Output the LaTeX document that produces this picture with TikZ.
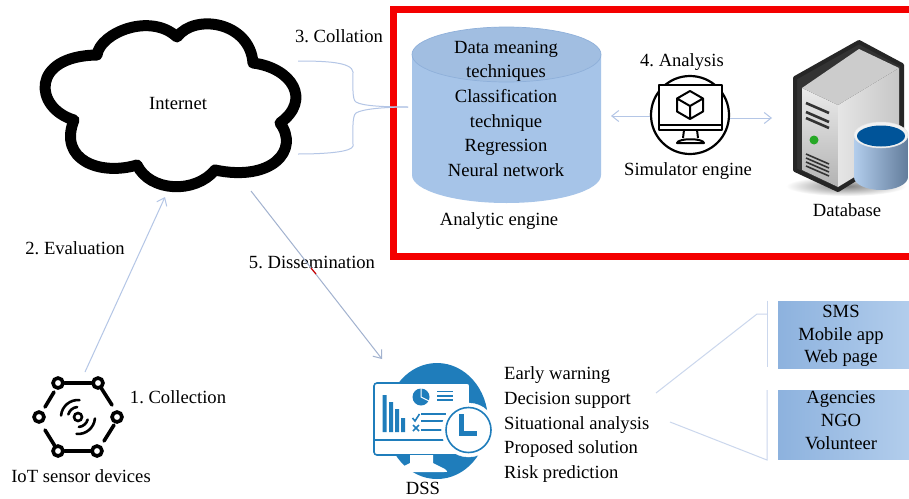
\documentclass[tikz,border=0pt]{standalone}
\usepackage{fontspec}
\setmainfont{Liberation Serif}
\usetikzlibrary{arrows.meta,shadings,calc}
\definecolor{link}{HTML}{B4C6E6}
\definecolor{cyl}{HTML}{A6C4E8}
\definecolor{cylrim}{HTML}{8FB0DA}
\definecolor{dssblue}{HTML}{1F7DBB}
\definecolor{ired}{HTML}{F40000}
\tikzset{
 lbl/.style={inner sep=0pt,font=\fontsize{18.6}{20}\selectfont\frenchspacing,text height=16.5pt,text depth=4pt,align=center},
 lst/.style={lbl,anchor=west},
 connector/.style={draw=link,line width=1pt},
 arrowed/.style={connector,-{Straight Barb[length=7pt,width=11pt]}},
 infobox/.style={inner sep=0pt,left color=HTMLboxa,right color=HTMLboxb},
 iotpad/.style={draw=black,line width=3.6pt,fill=white,circle,inner sep=0pt,minimum size=10pt},
 iotline/.style={draw=black,line width=3.6pt,line cap=round},
 srv/.style={line join=round},
}
\definecolor{HTMLboxa}{HTML}{8DB2DE}
\definecolor{HTMLboxb}{HTML}{B2CDEC}
\begin{document}
\begin{tikzpicture}[x=1pt,y=-1pt]
\useasboundingbox (0,0) rectangle (909,498);
\fill[white] (0,0) rectangle (909,498);

% Cloud
\draw[black,line width=11pt,line join=round,fill=white]
 (97,55) .. controls (100,33) and (150,12) .. (177,37)
 .. controls (195,13) and (250,22) .. (253,63)
 .. controls (292,68) and (312,100) .. (280,123)
 .. controls (300,150) and (272,182) .. (215,170)
 .. controls (195,194) and (150,192) .. (137,165)
 .. controls (100,176) and (58,160) .. (74,120)
 .. controls (34,108) and (30,56) .. (97,55) -- cycle;
\node[lbl] (internet) at (178,103) {Internet};

% Red frame
\coordinate (fa) at (920,9.5);
\coordinate (fb) at (393.5,9.5);
\coordinate (fc) at (393.5,256.5);
\coordinate (fd) at (920,256.5);
\draw[ired,line width=7.5pt,line join=miter] (fa) -- (fb) -- (fc) -- (fd);

% Collation brace
\coordinate (b1) at (298,61);
\coordinate (b2) at (298,154);
\coordinate (b3) at (408,107);
\draw[connector] (b1) .. controls (325,61) and (352,62) .. (353,72)
 .. controls (353,85) and (352,100) .. (356,102) .. controls (362,106) and (385,107) .. (b3);
\draw[connector] (b2) .. controls (325,154) and (352,152) .. (353,146)
 .. controls (353,130) and (352,116) .. (356,113) .. controls (362,109) and (385,107) .. (b3);
\node[lbl] (coll) at (339,36) {3. Collation};

% Cylinder
\fill[cyl] (412,55) -- (412,175) arc[start angle=180,end angle=0,x radius=94.5,y radius=28] -- (601,55) -- cycle;
\draw[draw=cylrim,fill=cyl!97!black,line width=.7pt] (506.5,54.5) ellipse[x radius=94.5,y radius=27.5];
\node[lbl] (t1) at (506,47) {Data meaning};
\node[lbl] (t2) at (506,71) {techniques};
\node[lbl] (t3) at (506,96) {Classification};
\node[lbl] (t4) at (506,121) {technique};
\node[lbl] (t5) at (506,145) {Regression};
\node[lbl] (t6) at (506,170) {Neural network};
\node[lbl] (analytic) at (499,219) {Analytic engine};

% Simulator icon
\node[lbl] (analysis) at (682,60) {4. Analysis};
\node[circle,draw=black,line width=2.2pt,minimum size=78pt,inner sep=0pt,fill=white] (sim) at (690,115) {};
\draw[black,line width=2.2pt,line join=round,fill=white] (659,85) rectangle (722,130);
\draw[black,line width=1.8pt] (659,125) -- (722,125);
\draw[black,line width=2pt,line join=round] (684,130) -- (683,138) (697,130) -- (698,138)
  (677,143) .. controls (678,138) and (703,138) .. (704,143) -- cycle;
\draw[black,line width=2pt,line join=round] (690,91) -- (703,98.5) -- (703,111.5) -- (690,119) -- (677,111.5) -- (677,98.5) -- cycle
  (677,98.5) -- (690,106) -- (703,98.5) (690,106) -- (690,119);
\node[lbl] (simlabel) at (688,169) {Simulator engine};
\coordinate (sl) at (611,116);
\coordinate (sr) at (772,118);
\draw[arrowed] (sim.west |- sl) -- (sl);
\draw[arrowed] (sim.east |- sr) -- (sr);

% Database icon
\shade[inner color=black!50,outer color=white] (846,186) ellipse[x radius=60,y radius=10];
\draw[srv,draw=black!85,line width=4pt,fill=black!80] (859,42) -- (902,65) -- (902,150) -- (838,190) -- (795,170) -- (795,78) -- cycle;
\fill[srv,top color=black!8,bottom color=black!30] (802,88) -- (838,105) -- (838,187) -- (802,170) -- cycle;
\fill[srv,left color=black!10,right color=black!22] (838,105) -- (899,68) -- (899,150) -- (838,187) -- cycle;
\fill[srv,black!20] (802,88) -- (859,49) -- (899,68) -- (838,105) -- cycle;
\draw[black!80,line width=2.6pt] (806,103) -- (829,113) (806,112) -- (829,122) (806,118) -- (829,128);
\draw[black!80,line width=1.6pt] (806,154) -- (829,164) (806,158) -- (829,168) (806,162) -- (829,172) (806,166) -- (829,176);
\fill[green!60!black!85] (814,140) circle[radius=4.5pt];
% small barrel
\shade[left color=HTMLboxb,right color=HTMLboxa!70!black] (854,135) -- (854,177) arc[start angle=180,end angle=0,x radius=27,y radius=13] -- (908,135) -- cycle;
\draw[draw=black!10,fill=black!5,line width=.5pt] (881,135) ellipse[x radius=27,y radius=13];
\fill[blue!45!cyan!60!black] (881,136) ellipse[x radius=24,y radius=10.5];
\node[lbl] (db) at (847,210) {Database};

% IoT icon
\node[iotpad] (p1) at (58,383) {};
\node[iotpad] (p2) at (98,383) {};
\node[iotpad] (p3) at (117,417) {};
\node[iotpad] (p4) at (97,451) {};
\node[iotpad] (p5) at (58,451) {};
\node[iotpad] (p6) at (39,417) {};
\draw[iotline] (p1) -- (p2);
\draw[iotline] (p2) -- (112,405);
\draw[iotline] (114,425) -- (104,441);
\draw[iotline] (p4) -- (p5);
\draw[iotline] (p5) -- (45,430);
\draw[iotline] (45,407) -- (54,392);
\node[circle,draw=black,line width=2.6pt,minimum size=8pt,inner sep=0pt] (hub) at (78,417) {};
\draw[black,line width=2.6pt,line cap=round] (hub.center) ++(195:10) arc[start angle=195,end angle=265,radius=10];
\draw[black,line width=2.6pt,line cap=round] (hub.center) ++(185:17) arc[start angle=185,end angle=275,radius=17];
\draw[black,line width=2.6pt,line cap=round] (hub.center) ++(15:10) arc[start angle=15,end angle=85,radius=10];
\draw[black,line width=2.6pt,line cap=round] (hub.center) ++(5:17) arc[start angle=5,end angle=95,radius=17];
\node[lbl] (coll1) at (178,397) {1. Collection};
\node[lbl] (iot) at (81,476) {IoT sensor devices};

% Evaluation / Dissemination
\coordinate (e1) at (85,372);
\coordinate (e2) at (165,197);
\draw[arrowed] (e1) -- (e2);
\node[lbl] (eval) at (75,248) {2. Evaluation};
\node[lbl] (diss) at (312,262) {5. Dissemination};
\coordinate (d1) at (251,191);
\coordinate (d2) at (382,359);
\draw[arrowed,draw=link!90!black] (d1) -- (d2);
\draw[red!80!black,line width=1.2pt] (311,268) -- (316,274);

% DSS icon
\fill[dssblue] (437,421) ellipse[x radius=51,y radius=58];
\draw[dssblue,line width=1.6pt,fill=white,rounded corners=3pt] (374,383) rectangle (470,455);
\fill[white] (410,455) -- (410,463) -- (398,469) .. controls (396,472) and (396,472) .. (400,472) -- (444,472) .. controls (448,472) and (448,472) .. (445,469) -- (433,463) -- (433,455) -- cycle;
\draw[dssblue,line width=1.4pt] (374,440) -- (470,440);
\fill[dssblue] (382.5,395) rectangle (386.5,432) (389,402) rectangle (393,432) (395,409) rectangle (399,432) (401,418) rectangle (405,432);
\fill[dssblue] (421,397) circle[radius=8.5pt];
\draw[white,line width=1pt] (421,388) -- (421,397) -- (429,401);
\draw[dssblue,line width=1.8pt] (437,391.5) -- (453,391.5) (437,396) -- (453,396) (437,400) -- (453,400);
\draw[dssblue,line width=1.6pt] (412.5,418) -- (415,421) -- (419.5,414);
\draw[dssblue,line width=1.6pt] (413,425) -- (419,431) (419,425) -- (413,431);
\draw[dssblue,line width=2pt] (421,414) -- (446,414) (421,421) -- (446,421) (421,430) -- (446,430);
\node[circle,draw=white,fill=white,minimum size=54pt,inner sep=0pt] (clock) at (468.5,430) {};
\draw[dssblue,line width=1.6pt] (clock.center) circle[radius=22.5pt];
\draw[dssblue,line width=4.4pt,line join=miter] (461.5,414) -- (461.5,433.5) -- (477,433.5);
\node[lbl] (dss) at (423,488) {DSS};

% Outcome list
\node[lst] (l1) at (504,373) {Early warning};
\node[lst] (l2) at (504,398) {Decision support};
\node[lst] (l3) at (504,423) {Situational analysis};
\node[lst] (l4) at (504,447) {Proposed solution};
\node[lst] (l5) at (504,472) {Risk prediction};

% Output boxes
\shade[infobox] (778,301.5) rectangle (909,368);
\shade[infobox] (778,390) rectangle (909,459);
\node[lbl] (s1) at (841,311) {SMS};
\node[lbl] (s2) at (841,334) {Mobile app};
\node[lbl] (s3) at (841,356.5) {Web page};
\node[lbl] (a1) at (841,397) {Agencies};
\node[lbl] (a2) at (841,420) {NGO};
\node[lbl] (a3) at (841,443) {Volunteer};
\coordinate (o1) at (656,393);
\coordinate (o2) at (757,314);
\coordinate (o3) at (767,314);
\coordinate (o4) at (767,300.5);
\coordinate (o5) at (767,367);
\coordinate (o6) at (670,422);
\coordinate (o7) at (767,460);
\coordinate (o8) at (767,390);
\draw[connector,draw=link!70!white] (o1) -- (o2) -- (o3);
\draw[connector,draw=link!70!white] (o4) -- (o5);
\draw[connector,draw=link!70!white] (o6) -- (o7) -- (o8);
\end{tikzpicture}
\end{document}
